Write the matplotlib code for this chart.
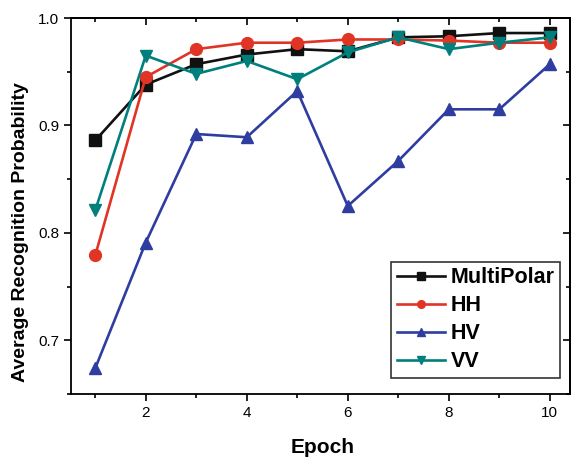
import matplotlib
matplotlib.use("Agg")
import matplotlib.pyplot as plt
from matplotlib.ticker import MultipleLocator, NullFormatter

plt.rcParams['font.family'] = ['Liberation Sans', 'DejaVu Sans']

epochs = [1, 2, 3, 4, 5, 6, 7, 8, 9, 10]
multipolar = [0.886, 0.938, 0.957, 0.966, 0.971, 0.969, 0.982, 0.983, 0.986, 0.986]
hh = [0.779, 0.945, 0.971, 0.977, 0.977, 0.980, 0.980, 0.979, 0.977, 0.977]
hv = [0.674, 0.791, 0.892, 0.889, 0.932, 0.825, 0.867, 0.915, 0.915, 0.957]
vv = [0.821, 0.965, 0.948, 0.960, 0.943, 0.968, 0.982, 0.971, 0.977, 0.982]

series = [
    ("MultiPolar", multipolar, "#111111", "s"),
    ("HH", hh, "#e03424", "o"),
    ("HV", hv, "#2e3d9f", "^"),
    ("VV", vv, "#00807c", "v"),
]

fig = plt.figure(figsize=(5.71, 4.57), dpi=100)
ax = fig.add_axes([71/571, 1-394/457, 499/571, 376/457])

for name, vals, col, mk in series:
    ax.plot(epochs, vals, color=col, marker=mk, markersize=8.5, linewidth=1.9, label=name)

ax.set_xlim(0.52, 10.4)
ax.set_ylim(0.65, 1.0)
ax.xaxis.set_major_locator(MultipleLocator(2))
ax.xaxis.set_minor_locator(MultipleLocator(1))
ax.yaxis.set_major_locator(MultipleLocator(0.1))
ax.yaxis.set_minor_locator(MultipleLocator(0.05))
ax.tick_params(which='both', direction='out', labelsize=11, width=1.2)
ax.tick_params(which='major', length=5)
ax.tick_params(which='minor', length=3)

top = ax.secondary_xaxis('top')
top.xaxis.set_major_locator(MultipleLocator(2))
top.xaxis.set_minor_locator(MultipleLocator(1))
top.xaxis.set_major_formatter(NullFormatter())
top.tick_params(which='both', direction='in', width=1.2)
top.tick_params(which='major', length=5)
top.tick_params(which='minor', length=3)

right = ax.secondary_yaxis('right')
right.yaxis.set_major_locator(MultipleLocator(0.1))
right.yaxis.set_minor_locator(MultipleLocator(0.05))
right.yaxis.set_major_formatter(NullFormatter())
right.tick_params(which='both', direction='in', width=1.2)
right.tick_params(which='major', length=5)
right.tick_params(which='minor', length=3)

for s in list(ax.spines.values()) + list(top.spines.values()) + list(right.spines.values()):
    s.set_linewidth(1.3)

ax.set_xlabel("Epoch", fontsize=15, fontweight='bold')
ax.set_ylabel("Average Recognition Probability", fontsize=14, fontweight='bold')
ax.xaxis.set_label_coords(0.504, -0.117)
ax.yaxis.set_label_coords(-0.084, 0.43)

leg = ax.legend(loc='lower right', bbox_to_anchor=(0.98, 0.043), fancybox=False,
                prop={'weight': 'bold', 'size': 15.5}, handlelength=2.25,
                borderpad=0.25, labelspacing=0.33, handletextpad=0.25, borderaxespad=0.0,
                markerscale=0.65)
leg.get_frame().set_edgecolor('#333333')
leg.get_frame().set_linewidth(1.2)
leg.get_frame().set_alpha(1)

fig.savefig("out.png", dpi=100)
